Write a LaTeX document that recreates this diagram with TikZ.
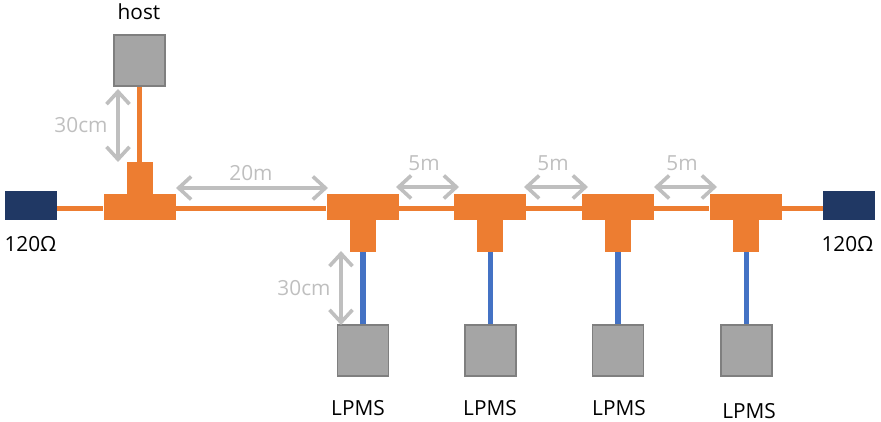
\documentclass[tikz,border=0pt]{standalone}
\usepackage{fontspec}
\setmainfont{Open Sans}
\usepackage{tikz}
\usetikzlibrary{arrows.meta}
\definecolor{teeorange}{HTML}{ED7D31}
\definecolor{stubblue}{HTML}{4472C4}
\definecolor{termnavy}{HTML}{203864}
\definecolor{boxgray}{HTML}{A5A5A5}
\definecolor{boxedge}{HTML}{7F7F7F}
\definecolor{dimgray}{HTML}{BFBFBF}
\tikzset{
	devbox/.style={rectangle,draw=boxedge,fill=boxgray,line width=1.2pt,inner sep=0,minimum width=51pt,minimum height=51pt},
	termbox/.style={rectangle,fill=termnavy,inner sep=0,minimum width=52pt,minimum height=29pt},
	teebar/.style={rectangle,fill=teeorange,inner sep=0,minimum width=72pt,minimum height=26pt},
	teestem/.style={rectangle,fill=teeorange,inner sep=0,minimum width=26pt,minimum height=37pt},
	cablered/.style={teeorange,line width=5.2pt},
	cableblue/.style={stubblue,line width=5.2pt},
	dimline/.style={dimgray,line width=3.6pt,{Straight Barb[length=12.5pt,width=23pt]}-{Straight Barb[length=12.5pt,width=23pt]}},
	dimtext/.style={text=dimgray,inner sep=0},
	devtext/.style={text=black,inner sep=0}
}
\begin{document}
\begin{tikzpicture}[x=1pt,y=-1pt,every node/.append style={font=\fontsize{20.8}{24}\selectfont}]
	\useasboundingbox (0,0) rectangle (881,422);
	% terminators and devices
	\node[termbox] (termL) at (31,205.5) {};
	\node[termbox] (termR) at (849,205.5) {};
	\node[devbox] (host) at (139.5,60.5) {};
	\node[devbox] (lpmsA) at (363,350.5) {};
	\node[devbox] (lpmsB) at (490.5,350.5) {};
	\node[devbox] (lpmsC) at (618,350.5) {};
	\node[devbox] (lpmsD) at (746.5,350.5) {};

	% T pieces
	\node[teebar] (barH) at (139.5,207) {};
	\node[teestem] (stemH) at (139.5,180.5) {};
	\node[teebar] (barA) at (362.5,207) {};
	\node[teestem] (stemA) at (363,233.5) {};
	\node[teebar] (barB) at (490,207) {};
	\node[teestem] (stemB) at (490,233.5) {};
	\node[teebar] (barC) at (618,207) {};
	\node[teestem] (stemC) at (618,233.5) {};
	\node[teebar] (barD) at (745.5,207) {};
	\node[teestem] (stemD) at (746,233.5) {};

	% bus
	\begin{scope}[cablered]
		\draw ([yshift=-3pt]termL.east) -- ([yshift=-1.5pt]barH.west);
		\draw ([yshift=-1.5pt]barH.east) -- ([yshift=-1.5pt]barA.west);
		\draw ([yshift=-1.5pt]barA.east) -- ([yshift=-1.5pt]barB.west);
		\draw ([yshift=-1.5pt]barB.east) -- ([yshift=-1.5pt]barC.west);
		\draw ([yshift=-1.5pt]barC.east) -- ([yshift=-1.5pt]barD.west);
		\draw ([yshift=-1.5pt]barD.east) -- ([yshift=-3pt]termR.west);
		\draw (host.south) -- (stemH.north);
	\end{scope}

	% stubs
	\begin{scope}[cableblue]
		\draw (stemA.south) -- (lpmsA.north);
		\draw ([xshift=.5pt]stemB.south) -- (lpmsB.north);
		\draw (stemC.south) -- (lpmsC.north);
		\draw ([xshift=.5pt]stemD.south) -- (lpmsD.north);
	\end{scope}

	% dimensions
	\coordinate (hostdimT) at (118,89);
	\coordinate (hostdimB) at (118,162);
	\coordinate (longdimL) at (176,188);
	\coordinate (longdimR) at (328,188);
	\coordinate (gapAL) at (396,187);
	\coordinate (gapAR) at (459,187);
	\coordinate (gapBL) at (524,187);
	\coordinate (gapBR) at (588,187);
	\coordinate (gapCL) at (654,187);
	\coordinate (gapCR) at (717,187);
	\coordinate (stubdimT) at (341,251);
	\coordinate (stubdimB) at (341,325);
	\draw[dimline] (hostdimT) -- (hostdimB);
	\draw[dimline] (longdimL) -- (longdimR);
	\draw[dimline] (gapAL) -- (gapAR);
	\draw[dimline] (gapBL) -- (gapBR);
	\draw[dimline] (gapCL) -- (gapCR);
	\draw[dimline] (stubdimT) -- (stubdimB);

	% labels
	\node[dimtext] (hostlen) at (81,125) {30cm};
	\node[dimtext] (stublen) at (304,288) {30cm};
	\node[dimtext] (longlen) at (251,173) {20m};
	\node[dimtext] (gapA) at (424,163) {5m};
	\node[dimtext] (gapB) at (553,163) {5m};
	\node[dimtext] (gapC) at (682,163) {5m};
	\node[devtext] (hostname) at (139,12) {host};
	\node[devtext] (ohmL) at (30.5,244) {120Ω};
	\node[devtext] (ohmR) at (847.5,244) {120Ω};
	\node[devtext] (nameA) at (358,408) {LPMS};
	\node[devtext] (nameB) at (490,408) {LPMS};
	\node[devtext] (nameC) at (619,408) {LPMS};
	\node[devtext] (nameD) at (749,411) {LPMS};
\end{tikzpicture}
\end{document}
